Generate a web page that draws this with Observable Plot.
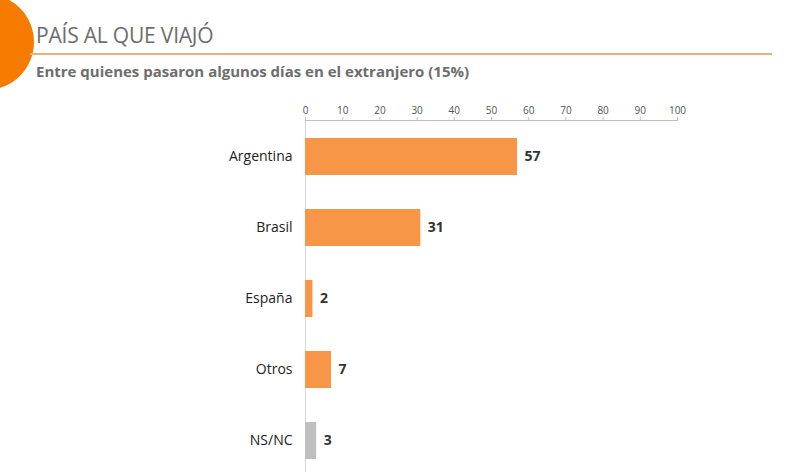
<!DOCTYPE html>
<html>
<head>
<meta charset="utf-8">
<script src="https://cdn.jsdelivr.net/npm/d3@7"></script>
<script src="https://cdn.jsdelivr.net/npm/@observablehq/plot@0.6"></script>
<style>
  html, body { margin: 0; padding: 0; background: #fff; }
  #page { position: relative; width: 800px; height: 472px; overflow: hidden; font-family: "Open Sans", sans-serif; }
  #dot { position: absolute; left: -62px; top: -6px; width: 96px; height: 96px; border-radius: 50%; background: #f57c00; }
  #header { position: relative; height: 95px; }
  #title { position: absolute; left: 36px; top: 21px; font-size: 21px; color: #6d6d6d; letter-spacing: -0.2px; }
  #rule { position: absolute; left: 30px; top: 53px; width: 742px; height: 2px; background: #e2b27f; }
  #subtitle { position: absolute; left: 36px; top: 61px; font-size: 15px; font-weight: bold; color: #6d6d6d; }
  #chart svg { display: block; }
</style>
</head>
<body>
<div id="page">
  <div id="dot"></div>
  <div id="header">
    <div id="title">PAÍS AL QUE VIAJÓ</div>
    <div id="rule"></div>
    <div id="subtitle">Entre quienes pasaron algunos días en el extranjero (15%)</div>
  </div>
  <div id="chart"></div>
</div>
<script>
// Destination country among those who spent some days abroad (%)
const countries = ["Argentina", "Brasil", "España", "Otros", "NS/NC"];
const shares = [57, 31, 2, 7, 3];
const xTicks = [0, 10, 20, 30, 40, 50, 60, 70, 80, 90, 100];

const rows = countries.map((country, i) => ({
  country,
  share: shares[i],
  noAnswer: country === "NS/NC"
}));

const chart = Plot.plot({
  width: 800,
  height: 381,
  marginTop: 25,
  marginLeft: 305,
  marginRight: 123,
  marginBottom: 0,
  style: { fontFamily: "Open Sans, sans-serif", background: "#fff" },
  x: { domain: [0, 100], axis: null },
  y: { domain: countries, paddingInner: 0.48, paddingOuter: 0.246, axis: null },
  marks: [
    // vertical baseline at zero
    Plot.ruleX([0], { stroke: "#d9d9d9", strokeWidth: 1 }),
    // top axis line with ticks
    Plot.frame({ anchor: "top", stroke: "#bfbfbf" }),
    Plot.axisX({ anchor: "top", ticks: xTicks, tickSize: 4, tickPadding: 3, stroke: "#bfbfbf", color: "#555", fontSize: 10, label: null }),
    Plot.barX(rows, {
      x: "share",
      y: "country",
      fill: d => d.noAnswer ? "#bfbfbf" : "#f79646"
    }),
    Plot.text(rows, {
      x: "share",
      y: "country",
      text: d => String(d.share),
      textAnchor: "start",
      dx: 7,
      fontSize: 14,
      fontWeight: "bold",
      fill: "#333"
    }),
    Plot.text(rows, {
      x: 0,
      y: "country",
      text: "country",
      textAnchor: "end",
      dx: -13,
      fontSize: 14,
      fill: "#222"
    })
  ]
});

document.getElementById("chart").appendChild(chart);
</script>
</body>
</html>
